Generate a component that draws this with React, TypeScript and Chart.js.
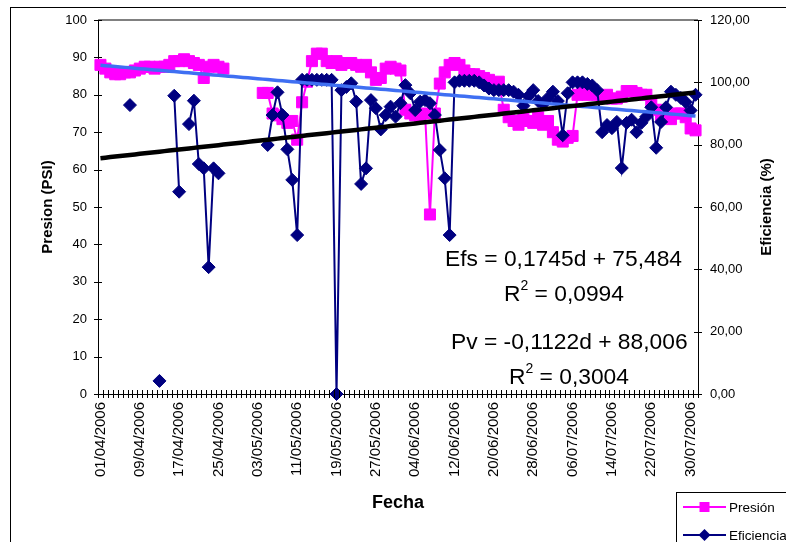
import React, { useEffect, useRef } from 'react';
import { Chart, registerables } from 'chart.js';

Chart.register(...registerables);

const FONT = "'Liberation Sans', Arial, sans-serif";

// Daily categories: 01/04/2006 .. 31/07/2006
const DAY_COUNT = 122;
function buildFechas(): string[] {
  const out: string[] = [];
  for (let i = 0; i < DAY_COUNT; i++) {
    const dt = new Date(Date.UTC(2006, 3, 1 + i));
    const dd = String(dt.getUTCDate()).padStart(2, '0');
    const mm = String(dt.getUTCMonth() + 1).padStart(2, '0');
    out.push(`${dd}/${mm}/${dt.getUTCFullYear()}`);
  }
  return out;
}
const fechas = buildFechas();
const LABEL_EVERY = 8;

const presionTicks = [0, 10, 20, 30, 40, 50, 60, 70, 80, 90, 100];
const eficienciaTicks = [0, 20, 40, 60, 80, 100, 120];

// Presión (PSI), one value per day, null = no reading
const presion: (number | null)[] = [
  88, 87, 86, 85.5, 85.5, 86, 86, 86.5, 87, 87.5,
  87.5, 87, 87.5, 87.5, 88, 89, 89, 89.5, 89, 88.5,
  88, 84.5, 87.5, 88, 87.5, 87, null, null, null, null,
  null, null, null, 80.5, 80.5, 75, 74.5, 73.5, 72.5, 73,
  68, 78, 83.5, 89, 91, 91, 89, 88.5, 89, 88,
  88.5, 88.5, 88, 87.5, 88, 86, 84, 84.5, 87, 87.5,
  87, 86.5, 76, 75, 74.5, 74, 75, 48, 75, 83,
  86, 88, 88.5, 88, 86.5, 85.5, 85.5, 85, 84.5, 84,
  83, 83.5, 76, 74, 73, 72, 74, 73, 72.5, 74,
  72, 73, 70, 68, 67.5, 68.5, 69, 80, 80.5, 80,
  80.5, 80, 79.5, 80, 79, 79, 79.5, 81, 81, 80.5,
  80, 80, 78, 76, 74, 74, 73.5, 75, 75, 74,
  71, 70.5,
];

// Eficiencia (%), one value per day, null = no reading
const eficiencia: (number | null)[] = [
  null, null, null, null, null, null, 92.7, null, null, null,
  null, null, 4.2, null, null, 95.7, 64.9, null, 86.6, 94.1,
  73.8, 72.4, 40.7, 72.4, 70.8, null, null, null, null, null,
  null, null, null, null, 79.9, 89.5, 96.8, 89.5, 78.5, 68.7,
  51, 100.8, 100.8, 100.8, 100.8, 100.8, 100.8, 100.8, 0, 97.5,
  98.5, 99.7, 93.8, 67.4, 72.4, 94.3, 91.7, 84.9, 89.5, 92.2,
  89, 93.3, 99.1, 96.5, 91.1, 93.8, 94.3, 93.3, 89.5, 78.3,
  69.2, 51, 100, 100.5, 100.5, 100.5, 100.5, 100, 99, 98,
  97.5, 97.5, 97.5, 97.5, 97, 96, 92.5, 95.5, 97.5, 94,
  93, 95, 97, 94, 83, 96.5, 100, 100, 100, 99.5,
  99, 97.5, 84, 86.3, 85.3, 87.3, 72.5, 87, 88, 84,
  87, 89, 92, 79, 87.3, 92, 97, 96, 95, 93.7,
  91, 96,
];

// Linear trends as stated on the chart (d = day number, starting at 1)
const EFS_SLOPE = 0.1745;
const EFS_INTERCEPT = 75.484;
const EFS_R2 = '0,0994';
const PV_SLOPE = -0.1122;
const PV_INTERCEPT = 88.006;
const PV_R2 = '0,3004';

const efsTrend = fechas.map((_, i) => EFS_SLOPE * (i + 1) + EFS_INTERCEPT);
const pvTrend = fechas.map((_, i) => PV_SLOPE * (i + 1) + PV_INTERCEPT);

const fmtComma = (v: number, digits: number) => v.toFixed(digits).replace('.', ',');
const fmtSigned = (v: number) => (v < 0 ? '-' : '') + fmtComma(Math.abs(v), 4);

const COLOR_P = '#FF00FF';
const COLOR_E = '#000080';
const COLOR_PV = '#3F6FF2';
const EQ_SIZE = 22.8;

function line(ctx: CanvasRenderingContext2D, x1: number, y1: number, x2: number, y2: number) {
  ctx.beginPath();
  ctx.moveTo(x1, y1);
  ctx.lineTo(x2, y2);
  ctx.stroke();
}

function drawR2(ctx: CanvasRenderingContext2D, x: number, y: number, value: string) {
  ctx.font = `${EQ_SIZE}px ${FONT}`;
  ctx.textAlign = 'left';
  ctx.textBaseline = 'alphabetic';
  ctx.fillText('R', x, y);
  let cx = x + ctx.measureText('R').width;
  ctx.font = `14px ${FONT}`;
  ctx.fillText('2', cx, y - 11);
  cx += ctx.measureText('2').width;
  ctx.font = `${EQ_SIZE}px ${FONT}`;
  ctx.fillText(` = ${value}`, cx, y);
}

const decorPlugin = {
  id: 'decor',
  afterDraw(chart: any) {
    const { ctx, chartArea, scales } = chart;
    const { left, right, top, bottom } = chartArea;
    ctx.save();

    // outer frame
    ctx.strokeStyle = '#000';
    ctx.lineWidth = 1;
    ctx.strokeRect(10.5, 7.5, 1000, 1000);

    // top edge of the plot area
    ctx.strokeStyle = '#808080';
    ctx.lineWidth = 2;
    line(ctx, left, top, right, top);

    // tick marks crossing the axes
    ctx.strokeStyle = '#000';
    ctx.lineWidth = 1;
    const xs = scales.x;
    const step = (xs.right - xs.left) / fechas.length;
    for (let i = 0; i <= fechas.length; i++) {
      const x = Math.round(xs.left + i * step) + 0.5;
      line(ctx, x, bottom - 4, x, bottom + 4);
    }
    presionTicks.forEach((v) => {
      const py = Math.round(scales.y.getPixelForValue(v)) + 0.5;
      line(ctx, left - 4, py, left + 4, py);
    });
    eficienciaTicks.forEach((v) => {
      const py = Math.round(scales.y1.getPixelForValue(v)) + 0.5;
      line(ctx, right - 4, py, right + 4, py);
    });

    // axis titles
    ctx.fillStyle = '#000';
    ctx.textAlign = 'center';
    ctx.textBaseline = 'middle';
    ctx.font = `bold 18px ${FONT}`;
    ctx.fillText('Fecha', (left + right) / 2, 503);

    ctx.font = `bold 15px ${FONT}`;
    ctx.save();
    ctx.translate(48, (top + bottom) / 2);
    ctx.rotate(-Math.PI / 2);
    ctx.fillText('Presion (PSI)', 0, 0);
    ctx.restore();
    ctx.save();
    ctx.translate(767, (top + bottom) / 2);
    ctx.rotate(-Math.PI / 2);
    ctx.fillText('Eficiencia (%)', 0, 0);
    ctx.restore();

    // trend equations
    ctx.textAlign = 'left';
    ctx.textBaseline = 'alphabetic';
    ctx.font = `${EQ_SIZE}px ${FONT}`;
    ctx.fillText(`Efs = ${fmtComma(EFS_SLOPE, 4)}d + ${fmtComma(EFS_INTERCEPT, 3)}`, 445, 266);
    drawR2(ctx, 504, 301, EFS_R2);
    ctx.font = `${EQ_SIZE}px ${FONT}`;
    ctx.fillText(`Pv = ${fmtSigned(PV_SLOPE)}d + ${fmtComma(PV_INTERCEPT, 3)}`, 451, 349);
    drawR2(ctx, 509, 384, PV_R2);

    // legend
    ctx.strokeStyle = '#000';
    ctx.lineWidth = 1;
    ctx.strokeRect(676.5, 492.5, 300, 100);
    const items = [
      { label: 'Presión', color: COLOR_P, shape: 'rect', y: 507 },
      { label: 'Eficiencia', color: COLOR_E, shape: 'diamond', y: 535 },
    ];
    items.forEach((it) => {
      ctx.strokeStyle = it.color;
      ctx.fillStyle = it.color;
      ctx.lineWidth = 2;
      line(ctx, 683, it.y, 726, it.y);
      ctx.beginPath();
      if (it.shape === 'rect') {
        ctx.rect(699.5, it.y - 5, 10, 10);
      } else {
        ctx.moveTo(704.5, it.y - 6);
        ctx.lineTo(710.5, it.y);
        ctx.lineTo(704.5, it.y + 6);
        ctx.lineTo(698.5, it.y);
        ctx.closePath();
      }
      ctx.fill();
      ctx.fillStyle = '#000';
      ctx.font = `13.5px ${FONT}`;
      ctx.textBaseline = 'middle';
      ctx.fillText(it.label, 729, it.y + 1);
    });

    ctx.restore();
  },
};

export default function App() {
  const canvasRef = useRef<HTMLCanvasElement | null>(null);

  useEffect(() => {
    const canvas = canvasRef.current;
    if (!canvas) return;

    const chart = new Chart(canvas, {
      type: 'line',
      data: {
        labels: fechas,
        datasets: [
          {
            label: 'Efs',
            data: efsTrend,
            yAxisID: 'y1',
            borderColor: '#000',
            borderWidth: 4.5,
            pointRadius: 0,
            order: 0,
          },
          {
            label: 'Pv',
            data: pvTrend,
            yAxisID: 'y',
            borderColor: COLOR_PV,
            borderWidth: 3.5,
            pointRadius: 0,
            order: 1,
          },
          {
            label: 'Eficiencia',
            data: eficiencia,
            yAxisID: 'y1',
            borderColor: COLOR_E,
            backgroundColor: COLOR_E,
            borderWidth: 2,
            pointStyle: 'rectRot',
            pointRadius: 6.5,
            pointBorderWidth: 1,
            spanGaps: false,
            clip: false,
            order: 2,
          },
          {
            label: 'Presión',
            data: presion,
            yAxisID: 'y',
            borderColor: COLOR_P,
            backgroundColor: COLOR_P,
            borderWidth: 2,
            pointStyle: 'rect',
            pointRadius: 7.8,
            pointBorderWidth: 1,
            spanGaps: false,
            clip: false,
            order: 3,
          },
        ],
      },
      options: {
        responsive: false,
        animation: false,
        devicePixelRatio: 1,
        layout: { padding: { top: 20, left: 0, right: 0, bottom: 0 } },
        plugins: {
          legend: { display: false },
          tooltip: { enabled: false },
        },
        elements: { line: { tension: 0 } },
        scales: {
          x: {
            type: 'category',
            offset: true,
            grid: { display: false, drawTicks: true, tickLength: 4 },
            border: { display: true, color: '#000', width: 1 },
            ticks: {
              autoSkip: false,
              minRotation: 90,
              maxRotation: 90,
              padding: 4,
              color: '#000',
              font: { family: FONT, size: 15 },
              callback: (_v: any, i: number) => (i % LABEL_EVERY === 0 ? fechas[i] : ''),
            },
            afterFit: (s: any) => {
              s.height = 148;
            },
          },
          y: {
            position: 'left',
            min: 0,
            max: 100,
            grid: { display: false, drawTicks: true, tickLength: 4 },
            border: { display: true, color: '#000', width: 1 },
            ticks: {
              stepSize: 10,
              padding: 7,
              color: '#000',
              font: { family: FONT, size: 13 },
            },
            afterFit: (s: any) => {
              s.width = 98;
            },
          },
          y1: {
            position: 'right',
            min: 0,
            max: 120,
            grid: { display: false, drawTicks: true, tickLength: 4 },
            border: { display: true, color: '#000', width: 1 },
            ticks: {
              stepSize: 20,
              padding: 8,
              color: '#000',
              font: { family: FONT, size: 13 },
              callback: (v: any) => fmtComma(Number(v), 2),
            },
            afterFit: (s: any) => {
              s.width = 88;
            },
          },
        },
      },
      plugins: [decorPlugin],
    });

    return () => chart.destroy();
  }, []);

  return (
    <div style={{ position: 'fixed', left: 0, top: 0, width: 786, height: 542, background: '#fff', overflow: 'hidden' }}>
      <canvas ref={canvasRef} width={786} height={542} style={{ display: 'block' }} />
    </div>
  );
}
